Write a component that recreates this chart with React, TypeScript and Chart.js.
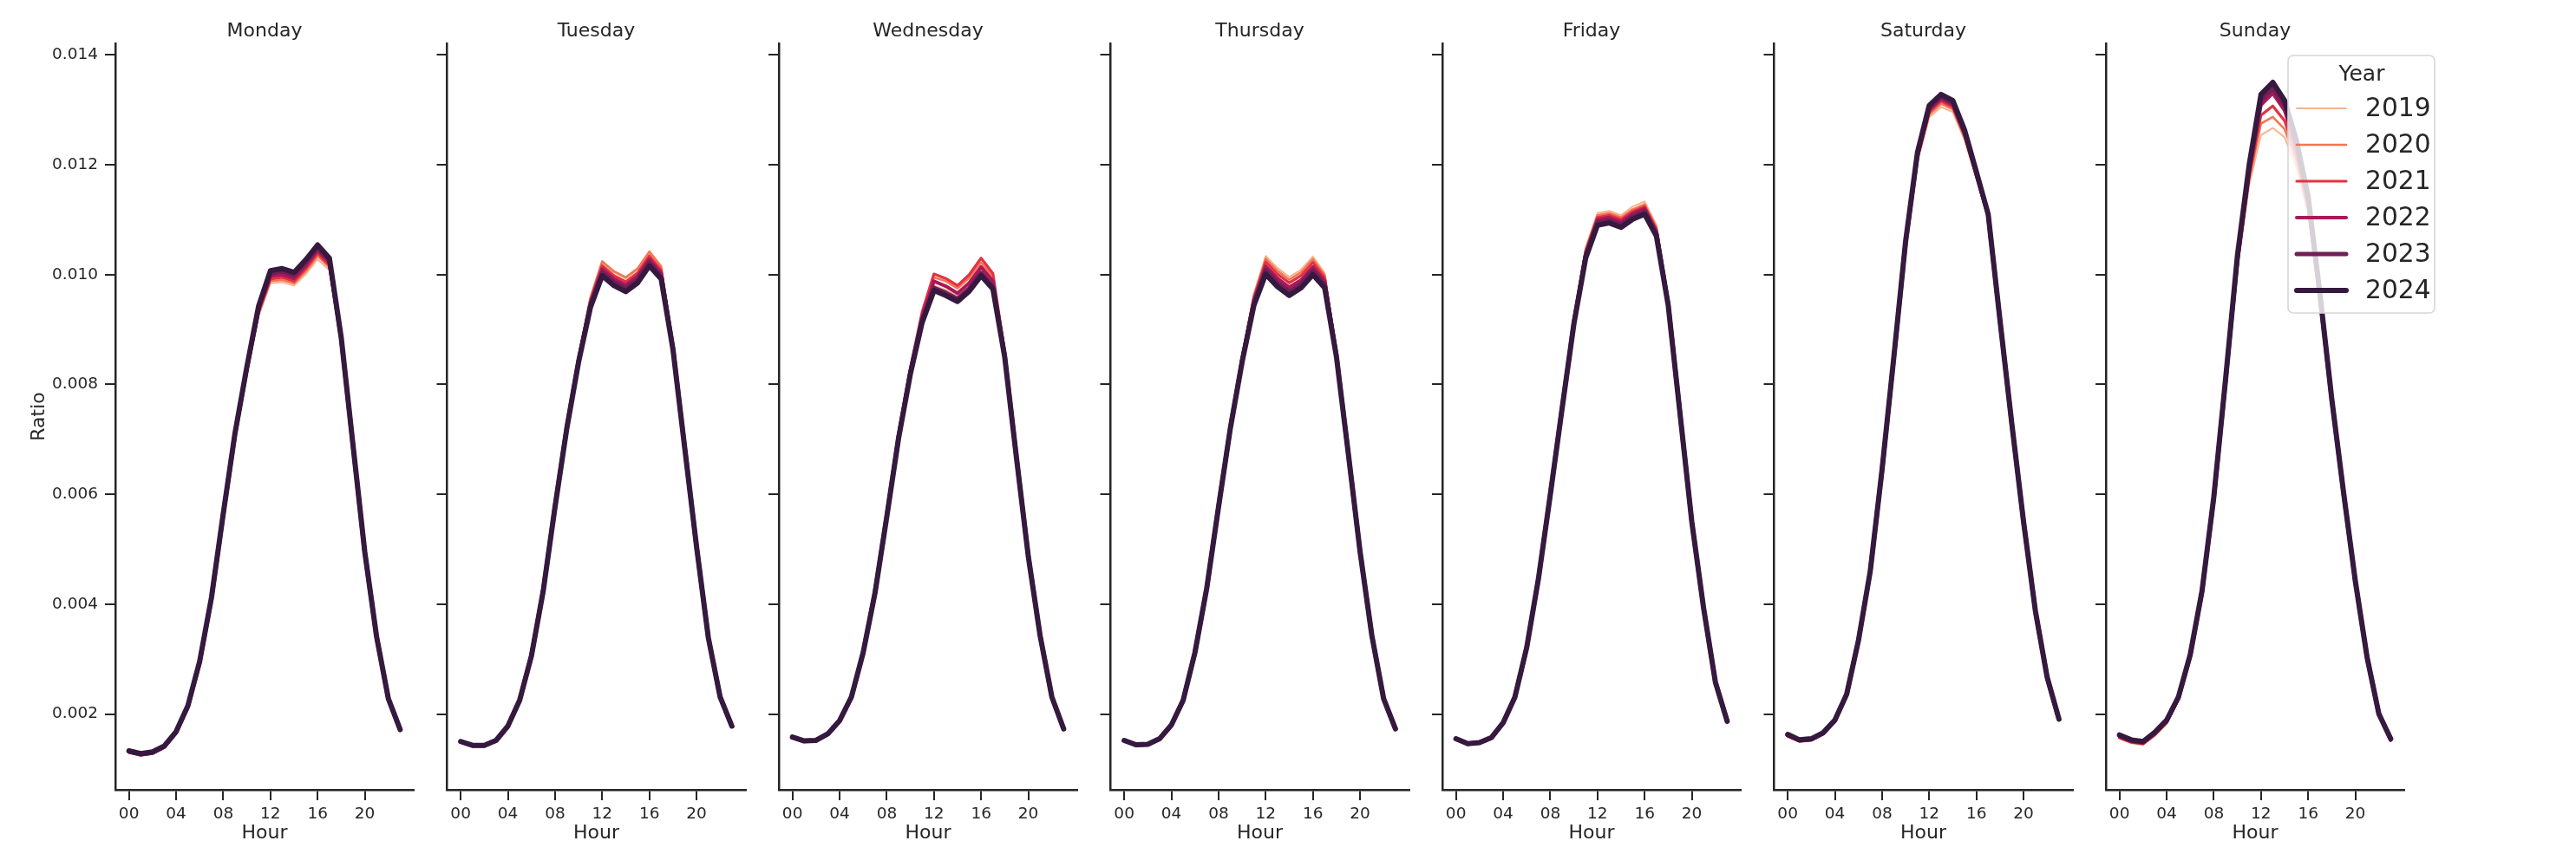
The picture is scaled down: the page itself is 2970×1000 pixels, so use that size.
import React, { useEffect, useRef } from "react";
import { Chart, registerables } from "chart.js";

Chart.register(...registerables);

// ---------- data ----------
const hours = [0, 1, 2, 3, 4, 5, 6, 7, 8, 9, 10, 11, 12, 13, 14, 15, 16, 17, 18, 19, 20, 21, 22, 23];
const years = ["2019", "2020", "2021", "2022", "2023", "2024"];
const dayNames = ["Monday", "Tuesday", "Wednesday", "Thursday", "Friday", "Saturday", "Sunday"];
const xTickValues = [0, 4, 8, 12, 16, 20];
const xTickLabels = ["00", "04", "08", "12", "16", "20"];
const yTickValues = [0.002, 0.004, 0.006, 0.008, 0.01, 0.012, 0.014];

const mon2019 = [0.00131,0.00126,0.00129,0.00140,0.00166,0.00213,0.00294,0.00409,0.00561,0.00705,0.00821,0.00925,0.00984,0.00986,0.00980,0.01001,0.01028,0.01008,0.00877,0.00686,0.00493,0.00340,0.00227,0.00171];
const mon2020 = [0.00130,0.00125,0.00128,0.00139,0.00165,0.00212,0.00293,0.00408,0.00560,0.00705,0.00822,0.00928,0.00988,0.00990,0.00984,0.01006,0.01034,0.01013,0.00879,0.00686,0.00493,0.00339,0.00227,0.00170];
const mon2021 = [0.00130,0.00125,0.00128,0.00139,0.00165,0.00212,0.00293,0.00409,0.00562,0.00707,0.00825,0.00932,0.00992,0.00995,0.00988,0.01011,0.01039,0.01017,0.00880,0.00687,0.00493,0.00340,0.00227,0.00170];
const mon2022 = [0.00131,0.00126,0.00129,0.00140,0.00166,0.00213,0.00294,0.00410,0.00563,0.00709,0.00828,0.00936,0.00997,0.01000,0.00993,0.01016,0.01044,0.01021,0.00882,0.00688,0.00494,0.00340,0.00227,0.00171];
const mon2023 = [0.00132,0.00127,0.00130,0.00141,0.00167,0.00214,0.00295,0.00411,0.00564,0.00711,0.00830,0.00940,0.01002,0.01006,0.00999,0.01022,0.01049,0.01026,0.00884,0.00689,0.00494,0.00341,0.00228,0.00171];
const mon2024 = [0.00133,0.00128,0.00131,0.00142,0.00168,0.00215,0.00296,0.00412,0.00565,0.00712,0.00832,0.00943,0.01007,0.01011,0.01004,0.01027,0.01054,0.01030,0.00886,0.00690,0.00495,0.00341,0.00228,0.00172];

const tue2019 = [0.00150,0.00142,0.00143,0.00152,0.00177,0.00225,0.00308,0.00428,0.00582,0.00727,0.00849,0.00956,0.01020,0.01004,0.00993,0.01009,0.01040,0.01013,0.00870,0.00687,0.00507,0.00341,0.00232,0.00178];
const tue2020 = [0.00149,0.00142,0.00142,0.00151,0.00177,0.00225,0.00308,0.00428,0.00583,0.00728,0.00850,0.00958,0.01024,0.01006,0.00995,0.01011,0.01042,0.01015,0.00871,0.00687,0.00507,0.00341,0.00232,0.00178];
const tue2021 = [0.00149,0.00142,0.00142,0.00151,0.00177,0.00225,0.00307,0.00427,0.00581,0.00726,0.00847,0.00953,0.01016,0.00998,0.00987,0.01003,0.01034,0.01008,0.00869,0.00686,0.00506,0.00340,0.00231,0.00178];
const tue2022 = [0.00149,0.00142,0.00142,0.00152,0.00178,0.00225,0.00307,0.00426,0.00580,0.00724,0.00845,0.00948,0.01010,0.00992,0.00981,0.00997,0.01028,0.01003,0.00868,0.00686,0.00506,0.00340,0.00231,0.00178];
const tue2023 = [0.00150,0.00143,0.00143,0.00152,0.00178,0.00225,0.00306,0.00425,0.00578,0.00722,0.00843,0.00944,0.01004,0.00986,0.00975,0.00991,0.01022,0.00997,0.00866,0.00685,0.00505,0.00339,0.00231,0.00178];
const tue2024 = [0.00150,0.00143,0.00143,0.00152,0.00178,0.00225,0.00306,0.00424,0.00577,0.00720,0.00841,0.00940,0.00998,0.00980,0.00969,0.00985,0.01016,0.00992,0.00864,0.00684,0.00505,0.00339,0.00231,0.00178];

const wed2019 = [0.00157,0.00150,0.00151,0.00163,0.00188,0.00231,0.00312,0.00421,0.00561,0.00705,0.00823,0.00919,0.00980,0.00972,0.00961,0.00980,0.01008,0.00982,0.00853,0.00668,0.00488,0.00343,0.00231,0.00173];
const wed2020 = [0.00157,0.00150,0.00151,0.00163,0.00187,0.00231,0.00313,0.00423,0.00564,0.00709,0.00828,0.00929,0.00995,0.00988,0.00975,0.00994,0.01022,0.00996,0.00857,0.00669,0.00489,0.00344,0.00231,0.00173];
const wed2021 = [0.00157,0.00150,0.00151,0.00163,0.00187,0.00231,0.00313,0.00423,0.00564,0.00710,0.00830,0.00932,0.01001,0.00993,0.00980,0.01000,0.01030,0.01002,0.00858,0.00669,0.00489,0.00344,0.00231,0.00173];
const wed2022 = [0.00157,0.00150,0.00151,0.00163,0.00188,0.00231,0.00313,0.00422,0.00562,0.00707,0.00825,0.00924,0.00988,0.00979,0.00966,0.00985,0.01014,0.00988,0.00855,0.00668,0.00488,0.00343,0.00231,0.00173];
const wed2023 = [0.00158,0.00151,0.00152,0.00164,0.00188,0.00231,0.00312,0.00421,0.00560,0.00704,0.00821,0.00917,0.00976,0.00967,0.00956,0.00975,0.01003,0.00978,0.00852,0.00667,0.00488,0.00343,0.00231,0.00173];
const wed2024 = [0.00158,0.00151,0.00152,0.00164,0.00188,0.00231,0.00312,0.00420,0.00559,0.00702,0.00819,0.00913,0.00971,0.00962,0.00951,0.00970,0.00998,0.00974,0.00850,0.00666,0.00487,0.00343,0.00231,0.00173];

const thu2019 = [0.00151,0.00143,0.00144,0.00154,0.00179,0.00225,0.00313,0.00431,0.00581,0.00726,0.00853,0.00965,0.01034,0.01012,0.00996,0.01009,0.01033,0.01003,0.00858,0.00677,0.00497,0.00343,0.00228,0.00173];
const thu2020 = [0.00151,0.00143,0.00144,0.00154,0.00179,0.00225,0.00313,0.00431,0.00580,0.00725,0.00851,0.00962,0.01029,0.01007,0.00991,0.01004,0.01028,0.00999,0.00857,0.00677,0.00497,0.00343,0.00228,0.00173];
const thu2021 = [0.00151,0.00143,0.00144,0.00154,0.00179,0.00225,0.00313,0.00430,0.00579,0.00724,0.00849,0.00958,0.01023,0.01001,0.00985,0.00998,0.01022,0.00994,0.00856,0.00676,0.00496,0.00343,0.00228,0.00173];
const thu2022 = [0.00152,0.00144,0.00145,0.00155,0.00180,0.00225,0.00312,0.00430,0.00578,0.00722,0.00846,0.00953,0.01015,0.00993,0.00977,0.00990,0.01014,0.00988,0.00854,0.00676,0.00496,0.00343,0.00228,0.00173];
const thu2023 = [0.00152,0.00144,0.00145,0.00155,0.00180,0.00225,0.00312,0.00429,0.00578,0.00721,0.00843,0.00948,0.01008,0.00985,0.00969,0.00983,0.01007,0.00982,0.00852,0.00675,0.00496,0.00343,0.00228,0.00173];
const thu2024 = [0.00152,0.00144,0.00145,0.00155,0.00180,0.00225,0.00312,0.00429,0.00577,0.00720,0.00841,0.00944,0.01001,0.00978,0.00962,0.00976,0.01000,0.00976,0.00850,0.00675,0.00496,0.00343,0.00228,0.00173];

const fri2019 = [0.00154,0.00145,0.00147,0.00156,0.00183,0.00231,0.00322,0.00449,0.00603,0.00762,0.00920,0.01049,0.01112,0.01116,0.01108,0.01124,0.01133,0.01090,0.00954,0.00750,0.00551,0.00393,0.00258,0.00187];
const fri2020 = [0.00154,0.00145,0.00147,0.00156,0.00183,0.00231,0.00322,0.00449,0.00602,0.00761,0.00918,0.01046,0.01108,0.01112,0.01104,0.01119,0.01128,0.01086,0.00952,0.00750,0.00551,0.00393,0.00258,0.00187];
const fri2021 = [0.00155,0.00146,0.00148,0.00157,0.00184,0.00231,0.00322,0.00448,0.00601,0.00759,0.00916,0.01042,0.01104,0.01108,0.01100,0.01115,0.01124,0.01082,0.00950,0.00749,0.00551,0.00393,0.00258,0.00187];
const fri2022 = [0.00155,0.00146,0.00148,0.00157,0.00184,0.00231,0.00321,0.00448,0.00600,0.00758,0.00914,0.01038,0.01100,0.01104,0.01096,0.01111,0.01120,0.01078,0.00948,0.00748,0.00550,0.00393,0.00258,0.00187];
const fri2023 = [0.00155,0.00146,0.00148,0.00157,0.00184,0.00231,0.00321,0.00447,0.00600,0.00757,0.00912,0.01034,0.01095,0.01099,0.01091,0.01106,0.01115,0.01074,0.00946,0.00748,0.00550,0.00393,0.00258,0.00187];
const fri2024 = [0.00155,0.00146,0.00148,0.00157,0.00184,0.00231,0.00321,0.00447,0.00599,0.00756,0.00910,0.01030,0.01090,0.01094,0.01086,0.01101,0.01110,0.01070,0.00944,0.00747,0.00550,0.00393,0.00258,0.00187];

const sat2019 = [0.00158,0.00149,0.00151,0.00162,0.00186,0.00234,0.00331,0.00456,0.00640,0.00844,0.01049,0.01205,0.01286,0.01305,0.01296,0.01245,0.01174,0.01103,0.00913,0.00727,0.00549,0.00387,0.00265,0.00188];
const sat2020 = [0.00159,0.00150,0.00152,0.00163,0.00187,0.00235,0.00332,0.00457,0.00641,0.00845,0.01052,0.01209,0.01291,0.01311,0.01301,0.01249,0.01177,0.01105,0.00914,0.00727,0.00549,0.00387,0.00266,0.00189];
const sat2021 = [0.00160,0.00151,0.00153,0.00164,0.00187,0.00235,0.00332,0.00458,0.00642,0.00846,0.01055,0.01213,0.01296,0.01316,0.01305,0.01253,0.01180,0.01106,0.00915,0.00728,0.00549,0.00387,0.00266,0.00189];
const sat2022 = [0.00161,0.00152,0.00154,0.00165,0.00188,0.00235,0.00333,0.00459,0.00643,0.00848,0.01057,0.01216,0.01300,0.01320,0.01309,0.01256,0.01182,0.01107,0.00916,0.00728,0.00550,0.00388,0.00266,0.00190];
const sat2023 = [0.00162,0.00152,0.00154,0.00165,0.00188,0.00236,0.00334,0.00460,0.00644,0.00849,0.01059,0.01219,0.01304,0.01324,0.01313,0.01260,0.01185,0.01109,0.00917,0.00729,0.00550,0.00388,0.00267,0.00190];
const sat2024 = [0.00163,0.00153,0.00155,0.00166,0.00189,0.00236,0.00334,0.00460,0.00645,0.00850,0.01061,0.01222,0.01308,0.01328,0.01317,0.01263,0.01187,0.01110,0.00917,0.00729,0.00550,0.00388,0.00267,0.00191];

const sun2019 = [0.00155,0.00147,0.00144,0.00160,0.00182,0.00225,0.00302,0.00418,0.00588,0.00797,0.01008,0.01163,0.01254,0.01267,0.01250,0.01196,0.01110,0.00950,0.00766,0.00600,0.00440,0.00301,0.00198,0.00150];
const sun2020 = [0.00156,0.00148,0.00145,0.00161,0.00183,0.00226,0.00303,0.00419,0.00589,0.00800,0.01014,0.01172,0.01275,0.01287,0.01265,0.01207,0.01117,0.00953,0.00768,0.00601,0.00440,0.00301,0.00198,0.00151];
const sun2021 = [0.00157,0.00149,0.00146,0.00163,0.00185,0.00227,0.00305,0.00420,0.00591,0.00803,0.01020,0.01180,0.01290,0.01307,0.01280,0.01218,0.01124,0.00956,0.00770,0.00602,0.00441,0.00302,0.00199,0.00152];
const sun2022 = [0.00159,0.00150,0.00147,0.00164,0.00186,0.00229,0.00306,0.00422,0.00593,0.00806,0.01026,0.01188,0.01309,0.01330,0.01299,0.01231,0.01132,0.00960,0.00772,0.00603,0.00441,0.00302,0.00199,0.00153];
const sun2023 = [0.00161,0.00152,0.00149,0.00166,0.00188,0.00230,0.00307,0.00423,0.00594,0.00808,0.01030,0.01194,0.01318,0.01339,0.01308,0.01238,0.01137,0.00962,0.00773,0.00603,0.00442,0.00303,0.00200,0.00154];
const sun2024 = [0.00162,0.00153,0.00150,0.00167,0.00189,0.00231,0.00308,0.00424,0.00595,0.00810,0.01034,0.01200,0.01328,0.01350,0.01317,0.01245,0.01142,0.00965,0.00774,0.00604,0.00442,0.00303,0.00200,0.00155];

const dayData = [
  [mon2019, mon2020, mon2021, mon2022, mon2023, mon2024],
  [tue2019, tue2020, tue2021, tue2022, tue2023, tue2024],
  [wed2019, wed2020, wed2021, wed2022, wed2023, wed2024],
  [thu2019, thu2020, thu2021, thu2022, thu2023, thu2024],
  [fri2019, fri2020, fri2021, fri2022, fri2023, fri2024],
  [sat2019, sat2020, sat2021, sat2022, sat2023, sat2024],
  [sun2019, sun2020, sun2021, sun2022, sun2023, sun2024],
];

// ---------- styles ----------
const yearColors = ["#f6b48f", "#f37651", "#e13342", "#ad1759", "#701f57", "#35193e"];
const yearWidths = [2, 2.6, 3.2, 4, 5, 6];
const INK = "#262626";
const FONT = "'DejaVu Sans', sans-serif";

const FIG_W = 2970;
const FIG_H = 1000;
const FIRST_AXIS_LEFT = 133;
const PANEL_STEP = 382.5;
const AREA_W = 344;
const AREA_TOP = 50;
const AREA_BOTTOM = 911;
const RIGHT_EXTRA = 60;

const legendPlugin = {
  id: "yearLegend",
  afterDraw(chart: any, _args: any, opts: any) {
    if (!opts || !opts.show) return;
    const ctx = chart.ctx;
    const x0 = opts.x;
    const y0 = opts.y;
    const w = 169;
    const h = 297;
    const r = 6;
    ctx.save();
    ctx.beginPath();
    ctx.moveTo(x0 + r, y0);
    ctx.lineTo(x0 + w - r, y0);
    ctx.arcTo(x0 + w, y0, x0 + w, y0 + r, r);
    ctx.lineTo(x0 + w, y0 + h - r);
    ctx.arcTo(x0 + w, y0 + h, x0 + w - r, y0 + h, r);
    ctx.lineTo(x0 + r, y0 + h);
    ctx.arcTo(x0, y0 + h, x0, y0 + h - r, r);
    ctx.lineTo(x0, y0 + r);
    ctx.arcTo(x0, y0, x0 + r, y0, r);
    ctx.closePath();
    ctx.fillStyle = "rgba(255,255,255,0.8)";
    ctx.fill();
    ctx.strokeStyle = "#d6d6d6";
    ctx.lineWidth = 1.6;
    ctx.stroke();

    ctx.fillStyle = INK;
    ctx.textAlign = "center";
    ctx.textBaseline = "middle";
    ctx.font = `25px ${FONT}`;
    ctx.fillText("Year", x0 + 85, y0 + 22);

    ctx.font = `29.7px ${FONT}`;
    ctx.textAlign = "left";
    years.forEach((yr, i) => {
      const cy = y0 + 61 + i * 42;
      ctx.beginPath();
      ctx.moveTo(x0 + 10, cy);
      ctx.lineTo(x0 + 67, cy);
      ctx.strokeStyle = yearColors[i];
      ctx.lineWidth = yearWidths[i];
      ctx.lineCap = "round";
      ctx.stroke();
      ctx.fillStyle = INK;
      ctx.fillText(yr, x0 + 89, cy + 1);
    });
    ctx.restore();
  },
};

function Panel({ index }: { index: number }) {
  const ref = useRef<HTMLCanvasElement>(null);
  const axisLeft = FIRST_AXIS_LEFT + index * PANEL_STEP;
  const canvasLeft = Math.floor(axisLeft - FIRST_AXIS_LEFT);
  const yAxisW = axisLeft - canvasLeft;
  const canvasW = Math.ceil(yAxisW + AREA_W + RIGHT_EXTRA);
  const rightPad = canvasW - yAxisW - AREA_W;
  const isFirst = index === 0;
  const isLast = index === dayNames.length - 1;

  useEffect(() => {
    const canvas = ref.current;
    if (!canvas) return;
    const series = dayData[index];
    const datasets = years.map((yr, i) => ({
      label: yr,
      data: hours.map((h, k) => ({ x: h, y: series[i][k] })),
      borderColor: yearColors[i],
      backgroundColor: yearColors[i],
      borderWidth: yearWidths[i],
      pointRadius: 0,
      tension: 0,
      fill: false,
      borderJoinStyle: "round" as const,
      borderCapStyle: "round" as const,
      order: years.length - i,
    }));

    const chart = new Chart(canvas, {
      type: "line",
      data: { datasets },
      plugins: [legendPlugin],
      options: {
        responsive: false,
        maintainAspectRatio: false,
        animation: false,
        events: [],
        layout: { padding: { left: 0, right: rightPad, top: 0, bottom: 0 } },
        plugins: {
          legend: { display: false },
          tooltip: { enabled: false },
          title: {
            display: true,
            fullSize: false,
            align: "center",
            text: dayNames[index],
            color: INK,
            font: { family: FONT, size: 22, weight: "normal", lineHeight: 1.2 },
            padding: { top: 22.6, bottom: AREA_TOP - 22.6 - 26.4 },
          },
          yearLegend: { show: isLast, x: 2638 - canvasLeft, y: 64 },
        } as any,
        scales: {
          x: {
            type: "linear",
            min: -1.15,
            max: 24.15,
            afterBuildTicks: (s: any) => {
              s.ticks = xTickValues.map((v) => ({ value: v }));
            },
            afterFit: (s: any) => {
              s.height = FIG_H - AREA_BOTTOM;
            },
            ticks: {
              autoSkip: false,
              maxRotation: 0,
              padding: 5,
              color: INK,
              font: { family: FONT, size: 18.5 },
              callback: (v: any) => xTickLabels[xTickValues.indexOf(Number(v))],
            },
            grid: {
              display: true,
              drawOnChartArea: false,
              drawTicks: true,
              tickLength: 12,
              tickWidth: 2,
              color: INK,
              lineWidth: 2,
            },
            border: { display: true, color: INK, width: 2.5 },
            title: {
              display: true,
              text: "Hour",
              color: INK,
              font: { family: FONT, size: 22, lineHeight: 1.2 },
              padding: { top: 0, bottom: 25.6 },
            },
          },
          y: {
            type: "linear",
            min: 0.00062,
            max: 0.01421,
            afterBuildTicks: (s: any) => {
              s.ticks = yTickValues.map((v) => ({ value: v }));
            },
            afterFit: (s: any) => {
              s.width = yAxisW;
            },
            ticks: {
              display: isFirst,
              padding: 8,
              color: INK,
              font: { family: FONT, size: 18.5 },
              callback: (v: any) => Number(v).toFixed(3),
            },
            grid: {
              display: true,
              drawOnChartArea: false,
              drawTicks: true,
              tickLength: 12,
              tickWidth: 2,
              color: INK,
              lineWidth: 2,
            },
            border: { display: true, color: INK, width: 2.5 },
            title: {
              display: isFirst,
              text: "Ratio",
              color: INK,
              font: { family: FONT, size: 22, lineHeight: 1.2 },
              padding: { top: 31.6, bottom: 0 },
            },
          },
        },
      } as any,
    });
    return () => chart.destroy();
  }, [index]);

  return (
    <canvas
      ref={ref}
      width={canvasW}
      height={FIG_H}
      style={{ position: "absolute", left: canvasLeft, top: 0, width: canvasW, height: FIG_H }}
    />
  );
}

export default function App() {
  return (
    <div
      style={{
        position: "absolute",
        left: 0,
        top: 0,
        width: FIG_W,
        height: FIG_H,
        background: "#ffffff",
        overflow: "hidden",
      }}
    >
      {dayNames.map((d, i) => (
        <Panel key={d} index={i} />
      ))}
    </div>
  );
}
